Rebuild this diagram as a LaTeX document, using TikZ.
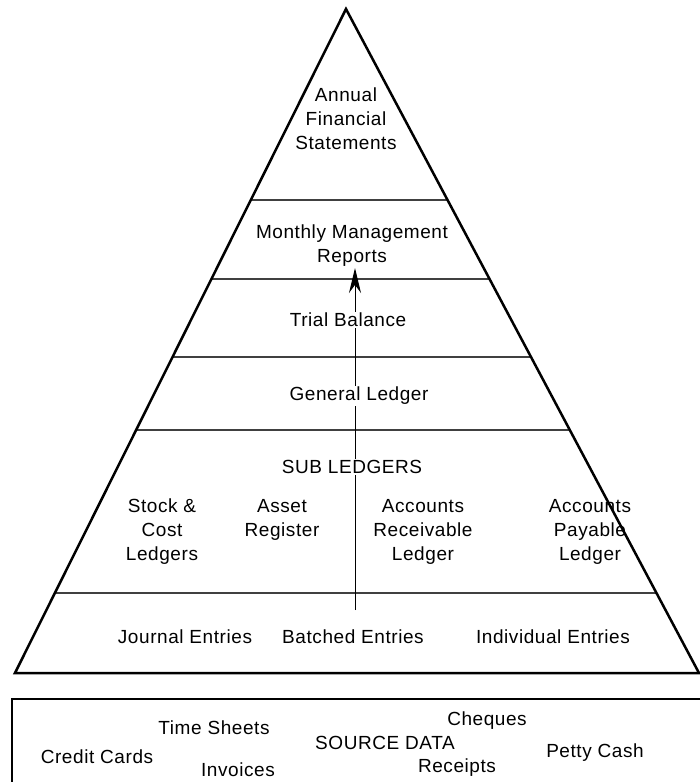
\documentclass[tikz,border=0pt]{standalone}
\usepackage{fontspec}
\setmainfont[LetterSpace=3]{Liberation Sans}
\usetikzlibrary{arrows.meta}
\tikzset{
  lbl/.style={font=\fontsize{19}{24}\selectfont, align=center, inner sep=1pt},
  lblw/.style={lbl, fill=white},
  band/.style={draw=black!75, line width=1.2pt},
}
\begin{document}
\begin{tikzpicture}[x=1pt,y=-1pt]
\useasboundingbox (0,0) rectangle (700,782);

% Pyramid corners
\coordinate (apex) at (346,9);
\coordinate (bl) at (15,673);
\coordinate (br) at (699,673);

% Bands
\begin{scope}
\clip (apex) -- (bl) -- (br) -- cycle;
\foreach \y in {200,279,357,430,593}
  \draw[band] (0,\y) -- (700,\y);
\end{scope}

% Flow arrow
\coordinate (src) at (355,610);
\coordinate (tip) at (355,268);
\draw[line width=1pt, -{Stealth[length=25pt,width=12pt]}] (src) -- (tip);

% Pyramid outline
\draw[line width=2.5pt, line join=miter] (apex) -- (bl) -- (br) -- cycle;

% Levels
\node[lbl] (annual) at (346,119) {Annual\\Financial\\Statements};
\node[lbl] (monthly) at (352,246) {Monthly Management\\Reports};
\node[lblw] (trial) at (348,320) {Trial Balance};
\node[lblw] (general) at (359,396) {General Ledger};
\node[lblw] (sub) at (352,467) {SUB LEDGERS};
\node[lbl] (stock) at (162,532) {Stock \&\\Cost\\Ledgers};
\node[lbl] (asset) at (282,520) {Asset\\Register};
\node[lbl] (receivable) at (423,532) {Accounts\\Receivable\\Ledger};
\node[lbl] (payable) at (590,532) {Accounts\\Payable\\Ledger};
\node[lbl] (journal) at (185,637) {Journal Entries};
\node[lbl] (batched) at (353,637) {Batched Entries};
\node[lbl] (individual) at (553,637) {Individual Entries};

% Source data box
\draw[line width=2pt] (12,699) rectangle (706,790);
\node[lbl] (timesheets) at (214,728) {Time Sheets};
\node[lbl] (cheques) at (487,721) {Cheques};
\node[lbl] (source) at (385,743) {SOURCE DATA};
\node[lbl] (credit) at (97,757) {Credit Cards};
\node[lbl] (petty) at (595,753) {Petty Cash};
\node[lbl] (invoices) at (238,770) {Invoices};
\node[lbl] (receipts) at (457,768) {Receipts};

\end{tikzpicture}
\end{document}
